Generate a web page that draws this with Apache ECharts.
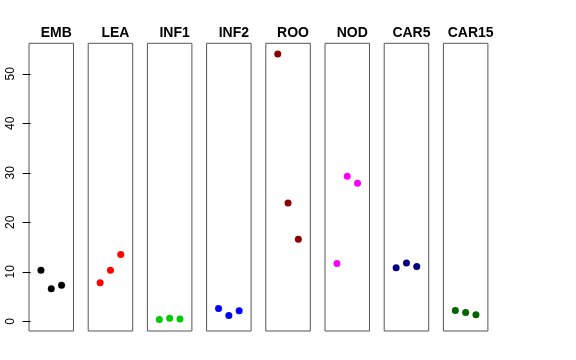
<!DOCTYPE html>
<html><head><meta charset="utf-8">
<script src="https://cdn.jsdelivr.net/npm/echarts@6/dist/echarts.min.js"></script>
<style>html,body{margin:0;padding:0;background:#fff}#c{width:576px;height:360px}</style>
</head><body><div id="c"></div>
<script>
const groups = ["EMB","LEA","INF1","INF2","ROO","NOD","CAR5","CAR15"];
const colors = ["#000000","#FF0000","#00CD00","#0000FF","#8B0000","#FF00FF","#000080","#006400"];
const xPos = [1, 2, 3];
const EMB = [10.3, 6.6, 7.3];
const LEA = [7.8, 10.3, 13.5];
const INF1 = [0.35, 0.6, 0.45];
const INF2 = [2.6, 1.2, 2.15];
const ROO = [54.0, 23.9, 16.6];
const NOD = [11.7, 29.3, 27.9];
const CAR5 = [10.8, 11.8, 11.1];
const CAR15 = [2.2, 1.8, 1.35];
const values = [EMB, LEA, INF1, INF2, ROO, NOD, CAR5, CAR15];
const yTicks = [0, 10, 20, 30, 40, 50];

const yMin = -1.95, yMax = 56.15;
const grids = [], xAxes = [], yAxes = [], series = [], titles = [];
groups.forEach((g, i) => {
  const left = 29 + i * 59.2;
  grids.push({left: left, top: 43.3, width: 44.5, height: 287.7, show: true, borderColor: '#555', borderWidth: 1, backgroundColor: 'transparent'});
  xAxes.push({type: 'value', gridIndex: i, min: -0.16, max: 4.16, show: false});
  const ya = {type: 'value', gridIndex: i, min: yMin, max: yMax, show: i === 0,
    splitLine: {show: false}, axisLine: {show: false}};
  if (i === 0) {
    ya.axisTick = {show: true, length: 8, lineStyle: {color: '#000'}, customValues: yTicks};
    ya.axisLabel = {show: true, rotate: 90, margin: 12, color: '#000', fontSize: 12, fontFamily: 'Liberation Sans', customValues: yTicks};
  }
  yAxes.push(ya);
  series.push({type: 'scatter', xAxisIndex: i, yAxisIndex: i, symbol: 'circle', symbolSize: 7,
    itemStyle: {color: colors[i], opacity: 1}, data: xPos.map((x, j) => [x, values[i][j]]), silent: true});
  titles.push({text: g, left: left + 22.25, top: 21, textAlign: 'center',
    textStyle: {fontSize: 14, fontWeight: 'bold', color: '#000', fontFamily: 'Liberation Sans'}});
});

const chart = echarts.init(document.getElementById('c'), null, {renderer: 'canvas'});
chart.setOption({animation: false, title: titles, grid: grids, xAxis: xAxes, yAxis: yAxes, series: series});
</script></body></html>
